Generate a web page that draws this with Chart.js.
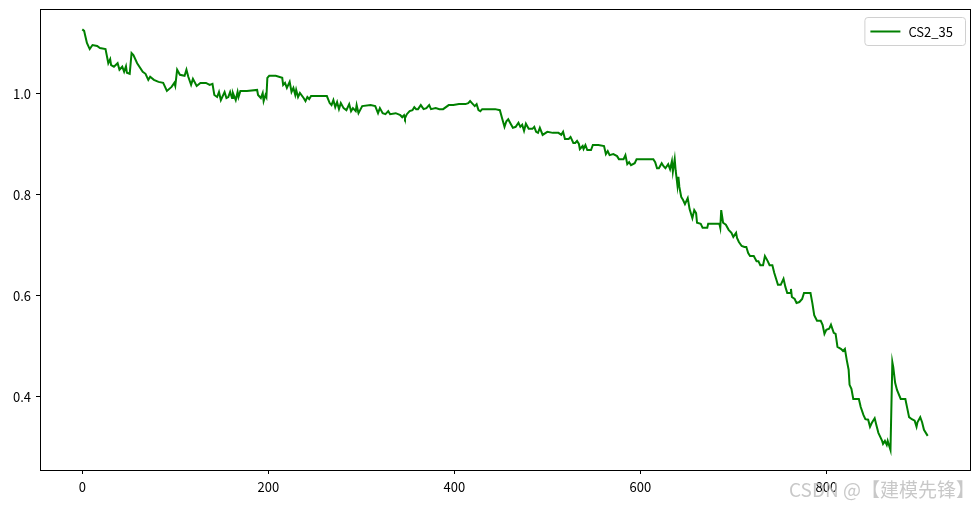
<!DOCTYPE html>
<html>
<head>
<meta charset="utf-8">
<script src="https://cdn.jsdelivr.net/npm/chart.js@4"></script>
<style>
  body { margin: 0; background: #fff; }
  #wrap { position: relative; width: 979px; height: 507px; }
  #mark {
    position: absolute; left: 789px; top: 475px;
    font-family: "Noto Sans CJK SC", sans-serif; font-size: 19px;
    color: rgba(190,190,190,0.85); white-space: nowrap;
  }
</style>
</head>
<body>
<div id="wrap">
  <canvas id="capChart"></canvas>
  <div id="mark">CSDN @【建模先锋】</div>
</div>
<script>
// capacity curve of battery CS2_35
const seriesName = "CS2_35";
const cycles = [
  0, 2, 3, 5, 8, 11, 16, 19, 25, 28, 30, 31, 34, 38, 40, 43, 45, 47, 48, 51,
  53, 55, 59, 65, 68, 71, 73, 77, 82, 87, 91, 96, 99, 100, 102, 105, 110, 112, 114, 117,
  119, 123, 127, 133, 137, 140, 142, 145, 147, 149, 153, 155, 157, 159, 161, 162, 165, 167, 168, 170,
  177, 188, 189, 192, 194, 195, 197, 198, 199, 201, 208, 215, 216, 218, 220, 223, 225, 227, 229, 230,
  232, 234, 238, 240, 242, 244, 246, 248, 256, 263, 266, 268, 270, 272, 274, 276, 278, 281, 284, 287,
  289, 291, 294, 295, 297, 301, 310, 315, 318, 320, 323, 326, 329, 331, 337, 342, 344, 346, 347, 349,
  352, 355, 357, 359, 361, 364, 367, 370, 373, 375, 380, 384, 388, 394, 399, 405, 412, 415, 417, 419,
  422, 424, 426, 428, 430, 437, 444, 449, 452, 454, 456, 458, 460, 463, 466, 469, 471, 473, 475, 477,
  480, 484, 486, 488, 490, 492, 495, 500, 506, 512, 515, 517, 519, 523, 525, 528, 530, 532, 534, 535,
  538, 539, 541, 543, 547, 549, 555, 561, 563, 565, 567, 571, 575, 577, 582, 584, 586, 588, 590, 594,
  596, 599, 608, 614, 616, 618, 620, 623, 625, 627, 630, 632, 634, 635, 637, 638, 640, 641, 642, 644,
  646, 648, 651, 653, 656, 658, 660, 661, 665, 667, 672, 673, 681, 685, 686, 687, 689, 692, 695, 698,
  700, 703, 704, 706, 709, 712, 714, 716, 718, 722, 725, 727, 729, 732, 734, 737, 739, 742, 744, 746,
  748, 751, 754, 756, 758, 761, 762, 763, 766, 768, 771, 774, 776, 778, 783, 785, 787, 790, 794, 796,
  798, 800, 803, 805, 808, 810, 812, 816, 818, 820, 822, 824, 825, 827, 829, 835, 837, 840, 842, 845,
  847, 849, 852, 854, 856, 858, 860, 861, 863, 865, 866, 868, 869, 871, 872, 874, 876, 880, 885, 887,
  889, 892, 895, 897, 898, 901, 903, 905, 909
];
const capacity = [
  1.128, 1.125, 1.117, 1.101, 1.089, 1.097, 1.095, 1.091, 1.089, 1.061, 1.069, 1.057, 1.054, 1.061, 1.048, 1.054, 1.044, 1.055, 1.042, 1.040,
  1.081, 1.077, 1.061, 1.044, 1.040, 1.028, 1.034, 1.028, 1.024, 1.022, 1.006, 1.014, 1.022, 1.016, 1.048, 1.038, 1.036, 1.048, 1.034, 1.018,
  1.030, 1.016, 1.022, 1.022, 1.018, 1.020, 0.998, 0.994, 1.004, 0.988, 1.004, 0.992, 0.994, 1.004, 0.992, 1.002, 0.988, 1.004, 0.994, 1.006,
  1.006, 1.008, 0.998, 0.992, 1.002, 0.986, 0.998, 0.994, 1.032, 1.036, 1.036, 1.032, 1.018, 1.022, 1.012, 1.024, 1.004, 1.012, 0.998, 1.008,
  0.994, 1.002, 0.992, 0.986, 0.994, 0.990, 0.996, 0.996, 0.996, 0.996, 0.982, 0.978, 0.988, 0.974, 0.984, 0.970, 0.982, 0.972, 0.968, 0.980,
  0.966, 0.972, 0.966, 0.978, 0.962, 0.976, 0.978, 0.976, 0.962, 0.972, 0.962, 0.960, 0.966, 0.960, 0.962, 0.958, 0.954, 0.958, 0.952, 0.960,
  0.966, 0.968, 0.974, 0.970, 0.970, 0.978, 0.970, 0.972, 0.978, 0.970, 0.972, 0.970, 0.970, 0.978, 0.978, 0.980, 0.980, 0.982, 0.986, 0.982,
  0.976, 0.980, 0.968, 0.966, 0.970, 0.970, 0.970, 0.968, 0.948, 0.935, 0.946, 0.950, 0.943, 0.933, 0.935, 0.943, 0.935, 0.939, 0.927, 0.941,
  0.931, 0.931, 0.935, 0.925, 0.923, 0.933, 0.919, 0.925, 0.923, 0.923, 0.919, 0.925, 0.911, 0.911, 0.915, 0.903, 0.903, 0.907, 0.901, 0.891,
  0.897, 0.891, 0.899, 0.889, 0.889, 0.899, 0.899, 0.897, 0.881, 0.887, 0.879, 0.881, 0.877, 0.871, 0.871, 0.879, 0.861, 0.865, 0.859, 0.863,
  0.871, 0.871, 0.871, 0.871, 0.865, 0.853, 0.853, 0.863, 0.857, 0.853, 0.861, 0.851, 0.867, 0.846, 0.871, 0.849, 0.818, 0.836, 0.816, 0.796,
  0.790, 0.782, 0.794, 0.772, 0.754, 0.770, 0.764, 0.745, 0.743, 0.735, 0.735, 0.743, 0.743, 0.743, 0.735, 0.770, 0.745, 0.741, 0.731, 0.725,
  0.717, 0.725, 0.715, 0.707, 0.699, 0.697, 0.697, 0.685, 0.679, 0.679, 0.669, 0.669, 0.661, 0.661, 0.679, 0.669, 0.661, 0.661, 0.646, 0.634,
  0.622, 0.622, 0.634, 0.618, 0.606, 0.606, 0.614, 0.598, 0.594, 0.586, 0.588, 0.594, 0.606, 0.606, 0.606, 0.586, 0.562, 0.551, 0.551, 0.543,
  0.525, 0.533, 0.535, 0.543, 0.527, 0.525, 0.499, 0.495, 0.491, 0.495, 0.473, 0.454, 0.424, 0.416, 0.396, 0.396, 0.380, 0.364, 0.356, 0.355,
  0.341, 0.349, 0.358, 0.343, 0.329, 0.321, 0.313, 0.307, 0.313, 0.305, 0.313, 0.301, 0.295, 0.469, 0.459, 0.428, 0.414, 0.396, 0.396, 0.378,
  0.360, 0.356, 0.353, 0.341, 0.350, 0.360, 0.350, 0.335, 0.323
];
const xTicks = [0, 200, 400, 600, 800];
const yTicks = [0.4, 0.6, 0.8, 1.0];

const lineColor = "#008000";
const fontFamily = '"Noto Sans CJK SC", "DejaVu Sans", sans-serif';

// matplotlib-style frame on all four sides + legend box in the top right
const framePlugin = {
  id: "frame",
  afterDraw(chart) {
    const { ctx, chartArea: a } = chart;
    ctx.save();
    ctx.strokeStyle = "#000";
    ctx.lineWidth = 1;
    ctx.strokeRect(Math.round(a.left) + 0.5, Math.round(a.top) + 0.5,
      Math.round(a.right - a.left), Math.round(a.bottom - a.top));

    // legend
    ctx.font = "13px " + fontFamily;
    const tw = ctx.measureText(seriesName).width;
    const bw = tw + 56, bh = 28;
    const bx = Math.round(a.right) - 5 - bw, by = Math.round(a.top) + 8;
    ctx.beginPath();
    ctx.roundRect(bx + 0.5, by + 0.5, bw, bh, 3);
    ctx.fillStyle = "rgba(255,255,255,0.8)";
    ctx.fill();
    ctx.strokeStyle = "#d0d0d0";
    ctx.stroke();
    ctx.beginPath();
    ctx.moveTo(bx + 6, by + bh / 2 + 0.5);
    ctx.lineTo(bx + 36, by + bh / 2 + 0.5);
    ctx.strokeStyle = lineColor;
    ctx.lineWidth = 2;
    ctx.stroke();
    ctx.fillStyle = "#000";
    ctx.textBaseline = "middle";
    ctx.fillText(seriesName, bx + 44, by + bh / 2 + 1);
    ctx.restore();
  }
};

const ctx = document.getElementById("capChart").getContext("2d");
new Chart(ctx, {
  type: "line",
  data: {
    datasets: [{
      label: seriesName,
      data: cycles.map((c, i) => ({ x: c, y: capacity[i] })),
      borderColor: lineColor,
      borderWidth: 2,
      pointRadius: 0,
      tension: 0,
      fill: false
    }]
  },
  options: {
    responsive: true,
    maintainAspectRatio: false,
    animation: false,
    layout: { padding: { top: 9, right: 9, left: 0, bottom: 0 } },
    plugins: {
      legend: { display: false },
      tooltip: { enabled: false }
    },
    scales: {
      x: {
        type: "linear",
        min: -45.45,
        max: 954.5,
        afterBuildTicks: s => { s.ticks = xTicks.map(v => ({ value: v })); },
        afterFit: s => { s.height = 37; s.paddingLeft = 0; s.paddingRight = 0; },
        grid: { drawOnChartArea: false, drawTicks: true, tickLength: 4, color: "#000" },
        border: { display: false },
        ticks: {
          color: "#000",
          padding: 5,
          maxRotation: 0,
          font: { family: fontFamily, size: 13 },
          callback: v => String(v)
        }
      },
      y: {
        type: "linear",
        min: 0.2554,
        max: 1.1683,
        afterBuildTicks: s => { s.ticks = yTicks.map(v => ({ value: v })); },
        afterFit: s => { s.width = 40; s.paddingTop = 0; s.paddingBottom = 0; },
        grid: { drawOnChartArea: false, drawTicks: true, tickLength: 4, color: "#000" },
        border: { display: false },
        ticks: {
          color: "#000",
          padding: 5,
          font: { family: fontFamily, size: 13 },
          callback: v => v.toFixed(1)
        }
      }
    }
  },
  plugins: [framePlugin]
});
</script>
</body>
</html>
